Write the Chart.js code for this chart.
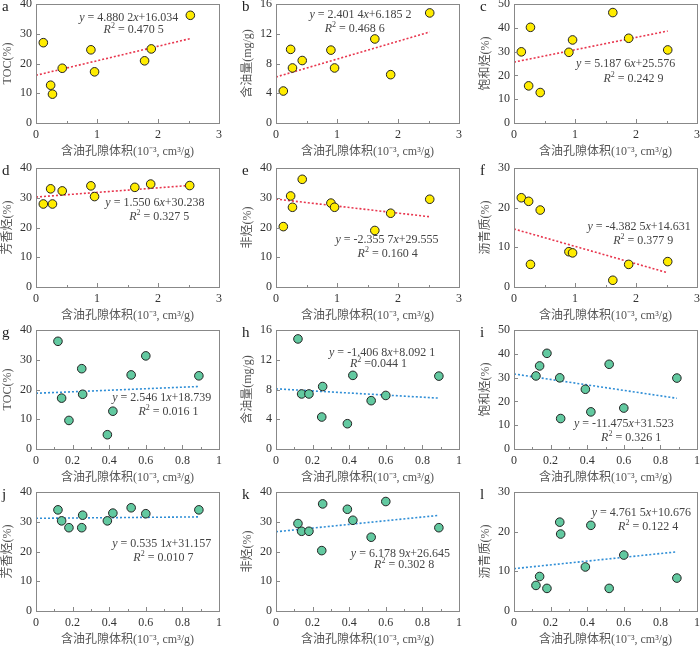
<!DOCTYPE html>
<html>
<head>
<meta charset="utf-8">
<script src="https://cdn.jsdelivr.net/npm/chart.js@4.4.0/dist/chart.umd.min.js"></script>
<style>
  body { margin: 0; width: 700px; height: 647px; overflow: hidden; background: #fff; position: relative; }
  .panel { position: absolute; width: 235px; height: 169px; }
</style>
</head>
<body>
<script>
// oil-bearing pore volume (10^-3 cm3/g)
const poreA = [0.12, 0.24, 0.27, 0.43, 0.90, 0.96, 1.78, 1.89, 2.53];
const poreTop = [0.12, 0.24, 0.27, 0.43, 0.90, 0.96, 1.62, 1.88, 2.52];
const poreBottom = [0.12, 0.14, 0.18, 0.25, 0.255, 0.39, 0.42, 0.52, 0.60, 0.89];

// top row (yellow) samples
const tocTop = [27.0, 12.7, 9.7, 18.4, 24.6, 17.2, 20.9, 24.9, 36.2];
const oilTop = [4.3, 9.9, 7.4, 8.4, 9.8, 7.4, 11.3, 6.5, 14.8];
const satTop = [29.9, 15.6, 40.2, 12.8, 29.7, 34.9, 46.4, 35.6, 30.7];
const aroTop = [27.9, 33.0, 27.9, 32.3, 34.0, 30.4, 33.5, 34.6, 34.1];
const nsoTop = [20.3, 30.6, 26.8, 36.2, 28.2, 26.8, 19.0, 24.8, 29.5];
const aspTop = [22.5, 21.6, 5.7, 19.4, 8.9, 8.6, 1.7, 5.7, 6.4];

// bottom row (green) samples
const tocBottom = [36.2, 17.1, 9.6, 27.0, 18.4, 4.8, 12.7, 24.9, 31.3, 24.6];
const oilBottom = [14.8, 7.4, 7.4, 4.3, 8.4, 3.4, 9.9, 6.5, 7.2, 9.8];
const satBottom = [30.7, 34.9, 40.2, 29.9, 12.8, 25.1, 15.6, 35.6, 17.2, 29.8];
const aroBottom = [34.0, 30.3, 28.0, 28.0, 32.2, 30.3, 32.9, 34.7, 32.7, 34.0];
const nsoBottom = [29.4, 26.8, 26.8, 20.3, 36.0, 34.2, 30.5, 24.8, 36.8, 28.0];
const aspBottom = [6.45, 8.7, 5.7, 22.4, 19.4, 11.1, 21.6, 5.7, 14.1, 8.3];

// fitted lines printed on the figure
const slopes = [4.8802, 2.4014, 5.1876, 1.5506, -2.3557, -4.3825, 2.5461, -1.4068, -11.475, 0.5351, 6.1789, 4.7615];
const intercepts = [16.034, 6.1852, 25.576, 30.238, 29.555, 14.631, 18.739, 8.0921, 31.523, 31.157, 26.645, 10.676];
const eqText = ["4.880 2", "2.401 4", "5.187 6", "1.550 6", "-2.355 7", "-4.382 5", "2.546 1", "-1.406 8", "-11.475", "0.535 1", "6.178 9", "4.761 5"];
const eqConst = ["16.034", "6.185 2", "25.576", "30.238", "29.555", "14.631", "18.739", "8.092 1", "31.523", "31.157", "26.645", "10.676"];
const r2Text = [" = 0.470 5", " = 0.468 6", " = 0.242 9", " = 0.327 5", " = 0.160 4", " = 0.377 9", " = 0.016 1", " =0.044 1", " = 0.326 1", " = 0.010 7", " = 0.302 8", " = 0.122 4"];
// label anchors in data units: [x1, y1, x2, y2]
const eqPos = [
  [1.52, 35.5, 1.6, 31.3], [1.385, 14.5, 1.29, 12.6], [1.83, 24.9, 1.96, 18.7],
  [1.95, 28.4, 2.02, 23.7], [1.82, 15.8, 1.83, 11.0], [2.05, 15.2, 2.12, 11.7],
  [0.687, 17.2, 0.724, 12.6], [0.58, 12.9, 0.56, 11.4], [0.6, 10.6, 0.64, 4.6],
  [0.687, 22.6, 0.696, 17.8], [0.68, 19.3, 0.7, 15.4], [0.696, 24.8, 0.733, 21.2]
];

const letters = ["a", "b", "c", "d", "e", "f", "g", "h", "i", "j", "k", "l"];
const yTitles = ["TOC(%)", "含油量(mg/g)", "饱和烃(%)", "芳香烃(%)", "非烃(%)", "沥青质(%)"];
const xTitle = "含油孔隙体积(10⁻³, cm³/g)";

const xTicksTop = [0, 1, 2, 3];
const xTicksBottom = [0, 0.2, 0.4, 0.6, 0.8, 1];
const yTicks = [
  [0, 10, 20, 30, 40], [0, 4, 8, 12, 16], [0, 10, 20, 30, 40, 50],
  [0, 10, 20, 30, 40], [0, 10, 20, 30, 40], [0, 10, 20, 30]
];

const colLeft = [36, 276, 514];
const rowTop = [4, 168, 330, 492];
const serif = "'Liberation Serif', 'Times New Roman', serif";
const cjk = "'Liberation Serif', 'Noto Sans CJK SC', serif";

function toPoints(xs, ys) {
  return xs.map((x, i) => ({ x: x, y: ys[i] }));
}

// draw a line of text made of plain / italic / superscript pieces, centred on cx
function drawPieces(ctx, pieces, cx, cy) {
  let total = 0;
  pieces.forEach(p => {
    ctx.font = p.style;
    p.w = ctx.measureText(p.t).width;
    total += p.w;
  });
  let x = cx - total / 2;
  pieces.forEach(p => {
    ctx.font = p.style;
    ctx.fillText(p.t, x, cy + (p.dy || 0));
    x += p.w;
  });
}

function makeDecor(idx, xTicks, minorStep) {
  return {
    id: 'decor' + idx,
    afterDraw(chart) {
      const ctx = chart.ctx;
      const area = chart.chartArea;
      const xs = chart.scales.x, ys = chart.scales.y;
      ctx.save();
      // frame
      ctx.strokeStyle = '#888';
      ctx.lineWidth = 1;
      ctx.strokeRect(Math.round(area.left) + 0.5, Math.round(area.top) + 0.5,
        Math.round(area.right - area.left), Math.round(area.bottom - area.top));
      // inner ticks
      ctx.beginPath();
      xTicks.forEach(v => {
        const px = Math.round(xs.getPixelForValue(v)) + 0.5;
        ctx.moveTo(px, area.bottom); ctx.lineTo(px, area.bottom - 4);
      });
      for (let v = minorStep; v < xs.max; v += minorStep * 2) {
        const px = Math.round(xs.getPixelForValue(v)) + 0.5;
        ctx.moveTo(px, area.bottom); ctx.lineTo(px, area.bottom - 2);
      }
      yTicks[idx % 6].forEach(v => {
        const py = Math.round(ys.getPixelForValue(v)) + 0.5;
        ctx.moveTo(area.left, py); ctx.lineTo(area.left + 4, py);
      });
      ctx.stroke();

      // panel letter
      ctx.fillStyle = '#222';
      ctx.font = '15px ' + serif;
      ctx.textBaseline = 'middle';
      ctx.textAlign = 'left';
      ctx.fillText(letters[idx], area.left - 34, area.top + 3);

      // regression label
      const pos = eqPos[idx];
      const reg = '12px ' + serif, ita = 'italic 12px ' + serif, sup = '8px ' + serif;
      ctx.fillStyle = '#444';
      drawPieces(ctx, [
        { t: 'y', style: ita }, { t: ' = ' + eqText[idx], style: reg },
        { t: 'x', style: ita }, { t: '+' + eqConst[idx], style: reg }
      ], xs.getPixelForValue(pos[0]), ys.getPixelForValue(pos[1]));
      drawPieces(ctx, [
        { t: 'R', style: ita }, { t: '2', style: sup, dy: -4 }, { t: r2Text[idx], style: reg }
      ], xs.getPixelForValue(pos[2]), ys.getPixelForValue(pos[3]));
      ctx.restore();
    }
  };
}

const topY = [tocTop, oilTop, satTop, aroTop, nsoTop, aspTop];
const bottomY = [tocBottom, oilBottom, satBottom, aroBottom, nsoBottom, aspBottom];

for (let i = 0; i < 12; i++) {
  const top = i < 6;
  const k = i % 6;
  const xs = top ? (i === 0 ? poreA : poreTop) : poreBottom;
  const ys = top ? topY[k] : bottomY[k];
  const xTicks = top ? xTicksTop : xTicksBottom;
  const yT = yTicks[k];
  const xEnd = Math.max(...xs);
  const trend = [
    { x: 0, y: intercepts[i] },
    { x: xEnd, y: intercepts[i] + slopes[i] * xEnd }
  ];

  const div = document.createElement('div');
  div.className = 'panel';
  div.style.left = (colLeft[i % 3] - 40) + 'px';
  div.style.top = (rowTop[Math.floor(i / 3)] - 12) + 'px';
  const cv = document.createElement('canvas');
  cv.width = 235; cv.height = 169;
  div.appendChild(cv);
  document.body.appendChild(div);

  new Chart(cv, {
    type: 'scatter',
    data: {
      datasets: [
        {
          type: 'scatter', data: toPoints(xs, ys),
          backgroundColor: top ? '#ffec00' : '#62c9a0',
          borderColor: '#222', borderWidth: 1, pointRadius: 4.3, order: 1
        },
        {
          type: 'line', data: trend,
          borderColor: top ? '#e8364e' : '#2f8ed6',
          borderDash: [2, 2], borderWidth: 1.6, pointRadius: 0, fill: false, order: 2
        }
      ]
    },
    options: {
      responsive: false,
      animation: false,
      layout: { padding: { top: 12, right: 12, left: 0, bottom: 0 } },
      plugins: { legend: { display: false }, tooltip: { enabled: false } },
      scales: {
        x: {
          type: 'linear', min: 0, max: xTicks[xTicks.length - 1],
          afterBuildTicks: s => { s.ticks = xTicks.map(v => ({ value: v })); },
          afterFit: s => { s.height = 38; },
          grid: { display: false, drawTicks: false },
          border: { display: false },
          ticks: { padding: 5, color: '#333', autoSkip: false, maxRotation: 0,
                   font: { family: serif, size: 12 }, callback: v => String(v) },
          title: { display: true, text: xTitle, color: '#555',
                   font: { family: cjk, size: 12 }, padding: 2 }
        },
        y: {
          type: 'linear', min: 0, max: yT[yT.length - 1],
          afterBuildTicks: s => { s.ticks = yT.map(v => ({ value: v })); },
          afterFit: s => { s.width = 40; },
          grid: { display: false, drawTicks: false },
          border: { display: false },
          ticks: { padding: 4, color: '#333', autoSkip: false,
                   font: { family: serif, size: 12 }, callback: v => String(v) },
          title: { display: true, text: yTitles[k], color: '#555',
                   font: { family: cjk, size: 12 }, padding: 5 }
        }
      }
    },
    plugins: [makeDecor(i, xTicks, top ? 0.5 : 0.1)]
  });
}
</script>
</body>
</html>
